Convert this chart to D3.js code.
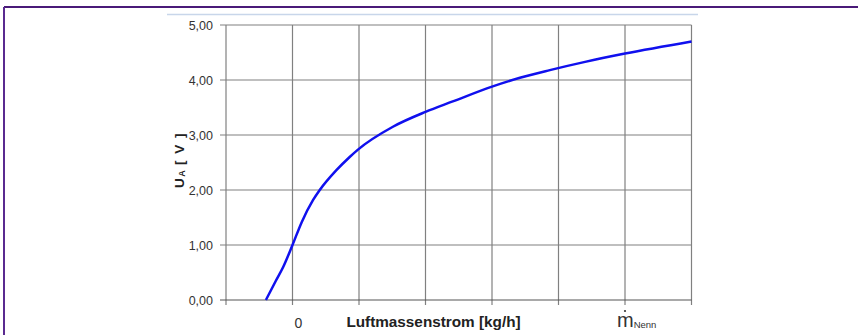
<!DOCTYPE html>
<html>
<head>
<meta charset="utf-8">
<script src="https://cdn.jsdelivr.net/npm/d3@7"></script>
<style>
  body { margin: 0; background: #fff; }
  svg { display: block; font-family: "Liberation Sans", Arial, sans-serif; }
</style>
</head>
<body>
<script>
// Kennlinie: x in Rasterteilungen (0 = Nullpunkt, 5 = m Nenn), y in Volt
var flow = [-0.40, -0.25, -0.14, 0, 0.14, 0.31, 0.41, 0.66, 0.86, 0.98, 1.51, 2.0, 2.41, 3.0, 3.42, 3.87, 4.4, 5.0, 6.0];
var volts = [0, 0.35, 0.6, 1.0, 1.42, 1.82, 2.0, 2.36, 2.6, 2.73, 3.15, 3.42, 3.61, 3.88, 4.04, 4.18, 4.33, 4.48, 4.70];
var yTicks = [0, 1, 2, 3, 4, 5];
var xGrid = [-1, 0, 1, 2, 3, 4, 5, 6];

var width = 858, height = 335;
var svg = d3.select("body").append("svg").attr("width", width).attr("height", height);

// Rahmen
svg.append("line").attr("x1", 4).attr("y1", 7).attr("x2", width).attr("y2", 7)
  .attr("stroke", "#4a1a78").attr("stroke-width", 2);
svg.append("line").attr("x1", 4).attr("y1", 7).attr("x2", 4).attr("y2", height)
  .attr("stroke", "#5a2a90").attr("stroke-width", 2);
svg.append("line").attr("x1", 167).attr("y1", 14.5).attr("x2", 698).attr("y2", 14.5)
  .attr("stroke", "#c8d6ea").attr("stroke-width", 1.5);

var x = d3.scaleLinear().domain([-1, 6]).range([226, 691.5]);
var y = d3.scaleLinear().domain([0, 5]).range([300, 25]);

// Gitter
svg.append("g").selectAll("line").data(xGrid).join("line")
  .attr("x1", d => x(d)).attr("x2", d => x(d))
  .attr("y1", y(5)).attr("y2", y(0) + 5)
  .attr("stroke", "#808080").attr("stroke-width", 1.2);
svg.append("g").selectAll("line").data(yTicks).join("line")
  .attr("x1", x(-1) - 6).attr("x2", x(6))
  .attr("y1", d => y(d)).attr("y2", d => y(d))
  .attr("stroke", d => d === 0 ? "#555" : "#808080").attr("stroke-width", 1.2);

// Y-Achse
var yAxis = svg.append("g").attr("transform", "translate(" + x(-1) + ",0)")
  .call(d3.axisLeft(y).tickValues(yTicks).tickSize(0).tickPadding(13)
    .tickFormat(d => d3.format(".2f")(d).replace(".", ",")));
yAxis.select(".domain").remove();
yAxis.selectAll("text").attr("font-size", 12.5).attr("fill", "#333")
  .attr("font-family", "Liberation Sans, Arial, sans-serif");

var ylab = svg.append("text").attr("transform", "translate(184,160) rotate(-90)")
  .attr("text-anchor", "middle").attr("font-size", 13.5).attr("font-weight", "bold")
  .attr("fill", "#222").attr("letter-spacing", 1.5);
ylab.append("tspan").text("U");
ylab.append("tspan").attr("font-size", 9).attr("dy", 1).attr("letter-spacing", 0).text("A");
ylab.append("tspan").attr("dy", -1).text(" [ V ]");

// X-Beschriftung
svg.append("text").attr("x", x(0) + 6).attr("y", 328).attr("text-anchor", "middle")
  .attr("font-size", 14).attr("fill", "#333").text("0");
svg.append("text").attr("x", 433.5).attr("y", 327).attr("text-anchor", "middle")
  .attr("font-size", 15.3).attr("font-weight", "bold").attr("fill", "#222").text("Luftmassenstrom [kg/h]");
var mn = svg.append("text").attr("x", x(5) - 8).attr("y", 327).attr("font-size", 20).attr("fill", "#333");
mn.append("tspan").text("m");
mn.append("tspan").attr("font-size", 9.5).attr("dy", 1).text("Nenn");
svg.append("circle").attr("cx", x(5)).attr("cy", 311).attr("r", 1.1).attr("fill", "#333");

// Kurve
var pts = flow.map((d, i) => [d, volts[i]]);
svg.append("path").datum(pts)
  .attr("d", d3.line().x(d => x(d[0])).y(d => y(d[1])).curve(d3.curveMonotoneX))
  .attr("fill", "none").attr("stroke", "#1010ee").attr("stroke-width", 2.5);
</script>
</body>
</html>
